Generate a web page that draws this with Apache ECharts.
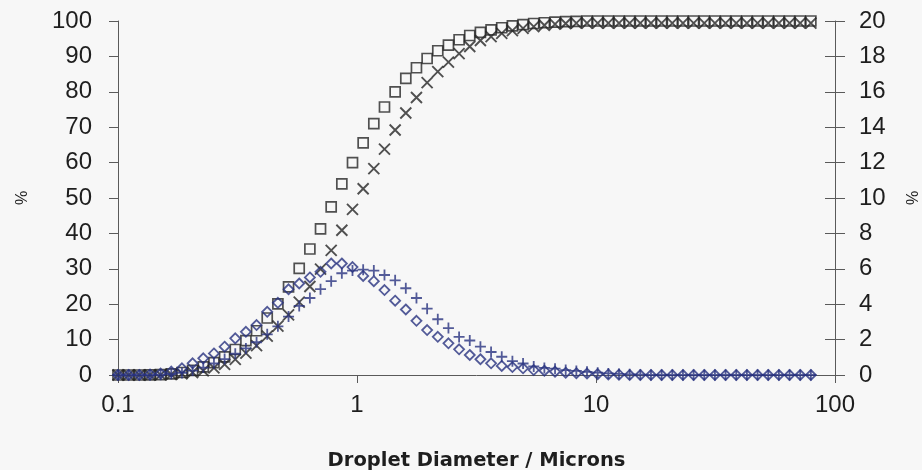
<!DOCTYPE html>
<html>
<head>
<meta charset="utf-8">
<script src="https://cdn.jsdelivr.net/npm/echarts@6/dist/echarts.min.js"></script>
<style>
  html, body { margin: 0; padding: 0; background: #f7f7f7; }
  #chart { width: 922px; height: 470px; }
</style>
</head>
<body>
<div id="chart"></div>
<script>
// Droplet diameter size classes (microns)
const diameters = [
  0.1, 0.1108, 0.1228, 0.1361, 0.1508, 0.1671, 0.1852, 0.2052, 0.2274, 0.2520,
  0.2793, 0.3095, 0.3429, 0.3800, 0.4211, 0.4667, 0.5171, 0.5731, 0.6351, 0.7037,
  0.7798, 0.8641, 0.9576, 1.0612, 1.1760, 1.3032, 1.4441, 1.6003, 1.7734, 1.9652,
  2.1777, 2.4133, 2.6743, 2.9635, 3.2840, 3.6392, 4.0329, 4.4691, 4.9524, 5.4881,
  6.0814, 6.7393, 7.4682, 8.2760, 9.1706, 10.163, 11.262, 12.480, 13.830, 15.325,
  16.982, 18.820, 20.855, 23.111, 25.610, 28.379, 31.448, 34.848, 38.617, 42.793,
  47.424, 52.55, 58.24, 64.54, 71.52, 79.25
];

// Sample A: cumulative undersize (%) and volume frequency (%)
const cumulativeA = [
  0, 0, 0, 0.03, 0.1, 0.3, 0.7, 1.3, 2.3, 3.5,
  5.1, 7.2, 9.7, 12.5, 16.1, 20.1, 24.9, 30.1, 35.6, 41.3,
  47.5, 54.0, 60.0, 65.6, 71.0, 75.7, 80.0, 83.8, 86.8, 89.4,
  91.6, 93.2, 94.7, 95.9, 96.8, 97.5, 98.1, 98.6, 99.0, 99.3,
  99.5, 99.7, 99.8, 99.9, 100, 100, 100, 100, 100, 100,
  100, 100, 100, 100, 100, 100, 100, 100, 100, 100,
  100, 100, 100, 100, 100, 100
];
const frequencyA = [
  0, 0, 0, 0.03, 0.08, 0.19, 0.38, 0.66, 0.94, 1.22,
  1.6, 2.07, 2.44, 2.82, 3.57, 4.08, 4.84, 5.17, 5.51, 5.83,
  6.3, 6.3, 6.1, 5.6, 5.3, 4.8, 4.2, 3.7, 3.06, 2.54,
  2.16, 1.79, 1.45, 1.13, 0.89, 0.66, 0.51, 0.45, 0.38, 0.28,
  0.24, 0.19, 0.13, 0.1, 0.08, 0.05, 0.03, 0.02, 0, 0,
  0, 0, 0, 0, 0, 0, 0, 0, 0, 0,
  0, 0, 0, 0, 0, 0
];

// Sample B: cumulative undersize (%) and volume frequency (%)
const cumulativeB = [
  0, 0, 0, 0, 0.05, 0.15, 0.35, 0.7, 1.2, 2.0,
  3.0, 4.4, 6.2, 8.3, 11.0, 13.8, 17.0, 20.6, 25.0, 29.9,
  35.2, 40.9, 46.8, 52.6, 58.3, 63.8, 69.2, 74.0, 78.4, 82.6,
  85.7, 88.4, 90.8, 92.8, 94.5, 95.6, 96.5, 97.3, 97.9, 98.4,
  98.8, 99.1, 99.3, 99.4, 99.4, 99.4, 99.4, 99.4, 99.4, 99.4,
  99.4, 99.4, 99.4, 99.4, 99.4, 99.4, 99.4, 99.4, 99.4, 99.4,
  99.4, 99.4, 99.4, 99.4, 99.4, 99.4
];
const frequencyB = [
  0, 0, 0, 0, 0.02, 0.05, 0.12, 0.25, 0.42, 0.65,
  0.9, 1.2, 1.5, 1.85, 2.3, 2.75, 3.3, 3.9, 4.35, 4.85,
  5.3, 5.75, 5.9, 5.95, 5.9, 5.65, 5.35, 4.9, 4.35, 3.75,
  3.15, 2.65, 2.15, 1.95, 1.6, 1.3, 1.03, 0.78, 0.65, 0.48,
  0.4, 0.36, 0.28, 0.23, 0.18, 0.13, 0.09, 0.06, 0.04, 0.02,
  0, 0, 0, 0, 0, 0, 0, 0, 0, 0,
  0, 0, 0, 0, 0, 0
];

const leftTicks = { min: 0, max: 100, interval: 10 };
const rightTicks = { min: 0, max: 20, interval: 2 };

const BLACK = '#262626';
const BLUE = '#28327f';
const AXIS = '#5a5a5a';
const TEXT = '#1e1e1e';
const FONT = 'Liberation Sans, Arial, sans-serif';
const TITLE_FONT = 'DejaVu Sans, Verdana, sans-serif';

const pair = (ys) => diameters.map((d, i) => [d, ys[i]]);

const chart = echarts.init(document.getElementById('chart'), null, { renderer: 'canvas' });

chart.setOption({
  backgroundColor: '#f7f7f7',
  animation: false,
  grid: { left: 118, right: 87, top: 21, bottom: 95, containLabel: false, outerBoundsMode: 'none' },
  xAxis: {
    type: 'log',
    logBase: 10,
    min: 0.1,
    max: 100,
    name: 'Droplet Diameter / Microns',
    nameLocation: 'middle',
    nameGap: 76,
    nameTextStyle: { fontFamily: TITLE_FONT, fontSize: 19.5, fontWeight: 'bold', color: TEXT },
    axisLine: { lineStyle: { color: AXIS, width: 1 } },
    axisTick: { show: true, length: 8, lineStyle: { color: AXIS } },
    minorTick: { show: false },
    axisLabel: {
      fontFamily: FONT, fontSize: 24, color: TEXT, margin: 18,
      formatter: (v) => String(v)
    },
    splitLine: { show: false }
  },
  yAxis: [
    {
      type: 'value',
      position: 'left',
      ...leftTicks,
      name: '%',
      nameLocation: 'middle',
      nameRotate: 90,
      nameGap: 87,
      nameTextStyle: { fontFamily: FONT, fontSize: 16, color: TEXT },
      axisLine: { show: true, lineStyle: { color: AXIS, width: 1 } },
      axisTick: { show: true, length: 9, lineStyle: { color: AXIS } },
      axisLabel: { fontFamily: FONT, fontSize: 24, color: TEXT, margin: 26 },
      splitLine: { show: false }
    },
    {
      type: 'value',
      position: 'right',
      ...rightTicks,
      name: '%',
      nameLocation: 'middle',
      nameRotate: 90,
      nameGap: 71,
      nameTextStyle: { fontFamily: FONT, fontSize: 16, color: TEXT },
      axisLine: { show: true, lineStyle: { color: AXIS, width: 1 } },
      axisTick: { show: true, length: 10, lineStyle: { color: AXIS } },
      axisLabel: { fontFamily: FONT, fontSize: 24, color: TEXT, margin: 24 },
      splitLine: { show: false }
    },
    {
      // inward half of the crossing ticks on the right-hand scale
      type: 'value',
      position: 'right',
      ...rightTicks,
      axisLine: { show: false },
      axisTick: { show: true, inside: true, length: 10, lineStyle: { color: AXIS } },
      axisLabel: { show: false },
      splitLine: { show: false }
    }
  ],
  series: [
    {
      type: 'scatter', name: 'Cumulative A', yAxisIndex: 0, clip: false,
      data: pair(cumulativeA),
      symbol: 'rect', symbolSize: 10,
      itemStyle: { color: 'rgba(0,0,0,0)', borderColor: BLACK, borderWidth: 1.7 }
    },
    {
      type: 'scatter', name: 'Cumulative B', yAxisIndex: 0, clip: false,
      data: pair(cumulativeB),
      symbol: 'path://M0,0L10,10M10,0L0,10', symbolSize: 11,
      itemStyle: { color: 'rgba(0,0,0,0)', borderColor: BLACK, borderWidth: 1.9 }
    },
    {
      type: 'scatter', name: 'Frequency A', yAxisIndex: 1, clip: false,
      data: pair(frequencyA),
      symbol: 'diamond', symbolSize: [10, 10],
      itemStyle: { color: 'rgba(0,0,0,0)', borderColor: BLUE, borderWidth: 1.8 }
    },
    {
      type: 'scatter', name: 'Frequency B', yAxisIndex: 1, clip: false,
      data: pair(frequencyB),
      symbol: 'path://M5,0L5,10M0,5L10,5', symbolSize: 11,
      itemStyle: { color: 'rgba(0,0,0,0)', borderColor: BLUE, borderWidth: 1.8 }
    }
  ]
});
</script>
</body>
</html>
